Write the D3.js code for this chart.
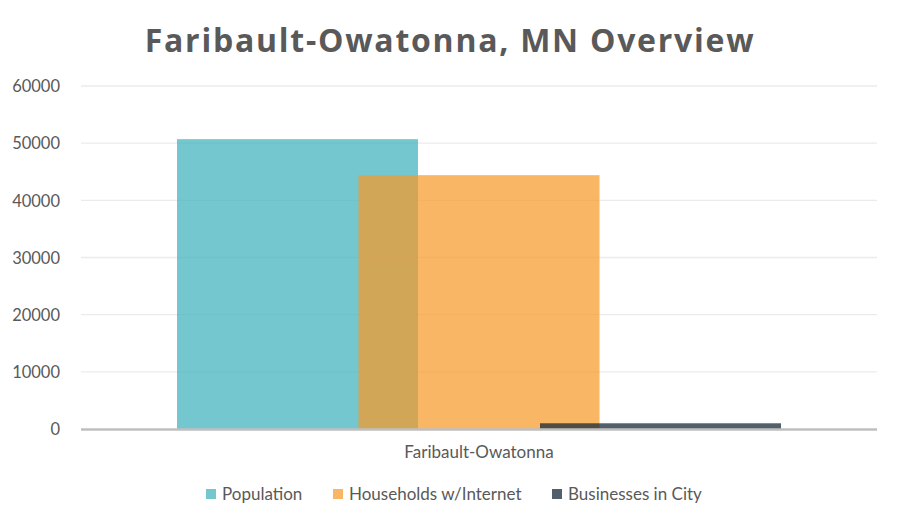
<!DOCTYPE html>
<html><head><meta charset="utf-8">
<script src="https://cdn.jsdelivr.net/npm/d3@7"></script>
<style>body{margin:0;background:#fff;} svg{display:block;}</style>
</head><body>
<svg id="c" width="902" height="527"></svg>
<script>
const categories = ["Faribault-Owatonna"];
const seriesNames = ["Population", "Households w/Internet", "Businesses in City"];
const population = [50700];
const households = [44400];
const businesses = [1000];
const yTicks = [0, 10000, 20000, 30000, 40000, 50000, 60000];
const colors = ["#3EB1BC", "#F79A28", "#0F2233"];

const seriesValues = [population, households, businesses];
const svg = d3.select("#c");
const margin = {left: 81, right: 25, top: 86, bottom: 98};
const W = 902, H = 527;
const x = d3.scaleBand().domain(categories).range([margin.left, W - margin.right]);
const y = d3.scaleLinear().domain([0, 60000]).range([H - margin.bottom, margin.top]);

svg.append("text").attr("x", 450).attr("y", 52).attr("text-anchor", "middle")
  .attr("font-family", "Open Sans").attr("font-weight", "bold").attr("font-size", 32)
  .attr("letter-spacing", 1.75).attr("fill", "#595959").text("Faribault-Owatonna, MN Overview");

// gridlines
svg.append("g").selectAll("line").data(yTicks.filter(d => d > 0)).join("line")
  .attr("x1", margin.left).attr("x2", W - margin.right)
  .attr("y1", d => y(d)).attr("y2", d => y(d))
  .attr("stroke", "#EBEBEB").attr("stroke-width", 1.3);

// y labels
const yAxis = d3.axisLeft(y).tickValues(yTicks).tickSize(0).tickFormat(d3.format("d"));
const ga = svg.append("g").attr("transform", `translate(${margin.left - 18},0)`).call(yAxis);
ga.select(".domain").remove();
ga.selectAll("text").attr("font-family", "Lato").attr("font-size", 16.5).attr("fill", "#595959").attr("dy", "0.35em");

// bars
const bandW = x.bandwidth();
const groupW = 604;
const barW = 241;
const step = (groupW - barW) / (seriesNames.length - 1);
categories.forEach((cat, ci) => {
  const cx = x(cat) + bandW / 2;
  seriesValues.forEach((vals, si) => {
    const x0 = cx - groupW / 2 + si * step;
    svg.append("rect").attr("x", x0).attr("width", barW)
      .attr("y", y(vals[ci])).attr("height", y(0) - y(vals[ci]))
      .attr("fill", colors[si]).attr("fill-opacity", 0.72);
  });
});

// x axis line
svg.append("line").attr("x1", margin.left).attr("x2", W - margin.right)
  .attr("y1", y(0) + 0.5).attr("y2", y(0) + 0.5).attr("stroke", "#BFBFBF").attr("stroke-width", 2.5);

// category label
const xAxis = d3.axisBottom(x).tickSize(0);
const gx = svg.append("g").attr("transform", `translate(0,${y(0)})`).call(xAxis);
gx.select(".domain").remove();
gx.selectAll("text").attr("font-family", "Lato").attr("font-size", 17).attr("fill", "#595959").attr("y", 17);

// legend
const legendX = [206, 333, 552];
const lg = svg.append("g");
seriesNames.forEach((n, i) => {
  lg.append("rect").attr("x", legendX[i]).attr("y", 489).attr("width", 10).attr("height", 10)
    .attr("fill", colors[i]).attr("fill-opacity", 0.72);
  lg.append("text").attr("x", legendX[i] + 16).attr("y", 494).attr("dy", "0.35em")
    .attr("font-family", "Lato").attr("font-size", 17).attr("fill", "#595959").text(n);
});
</script>
</body></html>
